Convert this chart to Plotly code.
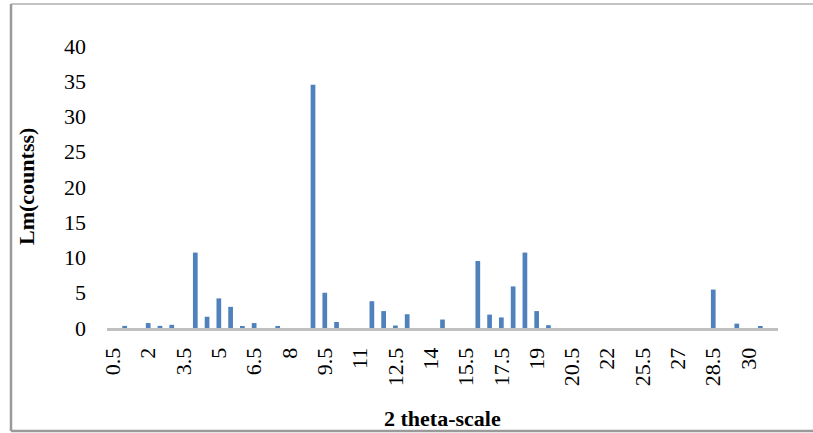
import plotly.graph_objects as go

categories = ["0.5", "1", "1.5", "2", "2.5", "3", "3.5", "4", "4.5", "5",
              "5.5", "6", "6.5", "7", "7.5", "8", "8.5", "9", "9.5", "10",
              "10.5", "11", "11.5", "12", "12.5", "13", "13.5", "14", "14.5", "15",
              "15.5", "16", "17", "17.5", "18", "18.5", "19", "19.5", "20", "20.5",
              "21", "21.5", "22", "23", "24.5", "25.5", "26", "26.5", "27", "27.5",
              "28", "28.5", "29", "29.5", "30", "30.5", "31"]
counts = [0, 0.3, 0, 0.7, 0.3, 0.45, 0, 10.7, 1.6, 4.2,
          3.0, 0.25, 0.7, 0, 0.25, 0, 0, 34.5, 5.0, 0.85,
          0, 0, 3.8, 2.4, 0.35, 1.95, 0, 0, 1.2, 0,
          0, 9.5, 1.9, 1.5, 5.9, 10.7, 2.4, 0.4, 0, 0,
          0, 0, 0, 0, 0, 0, 0, 0, 0, 0,
          0, 5.45, 0, 0.62, 0, 0.25, 0]
tick_labels = categories[::3]
y_ticks = [0, 5, 10, 15, 20, 25, 30, 35, 40]

SERIF = "Liberation Serif, Times New Roman, serif"

fig = go.Figure(go.Bar(x=categories, y=counts, marker_color="#4F81BD",
                       marker_line_width=0))

ML, MR, MT, MB = 107, 35, 46, 105
W, H = 813, 433
pw, ph = W - ML - MR, H - MT - MB

def px_x(p):
    return (p - ML) / pw

def px_y(p):
    return (H - MB - p) / ph

fig.update_layout(
    width=W, height=H,
    margin=dict(l=ML, r=MR, t=MT, b=MB),
    plot_bgcolor="white", paper_bgcolor="white",
    bargap=0.6, showlegend=False,
    font=dict(family=SERIF, size=22, color="black"),
    xaxis=dict(type="category", categoryorder="array", categoryarray=categories,
               tickmode="array", tickvals=tick_labels, ticktext=tick_labels,
               tickangle=-90, showgrid=False, showline=True,
               linecolor="#c0c0c0", linewidth=3, ticks="",
               ticklabelstandoff=8, automargin=False,
               tickfont=dict(family=SERIF, size=22, color="black")),
    yaxis=dict(range=[0, 40], tickvals=y_ticks, showgrid=False, showline=False,
               zeroline=False, ticks="", ticklabelstandoff=20, automargin=False,
               tickfont=dict(family=SERIF, size=22, color="black")),
    annotations=[
        dict(text="<b>Lm(countss)</b>", x=px_x(26), y=0.5, xref="paper", yref="paper",
             textangle=-90, showarrow=False, xanchor="center", yanchor="middle",
             font=dict(family=SERIF, size=22, color="black")),
        dict(text="<b>2 theta-scale</b>", x=0.5, y=px_y(418), xref="paper", yref="paper",
             showarrow=False, xanchor="center", yanchor="middle",
             font=dict(family=SERIF, size=22, color="black")),
    ],
    shapes=[
        dict(type="line", xref="paper", yref="paper", x0=px_x(11), x1=px_x(813),
             y0=px_y(4), y1=px_y(4), line=dict(color="#c4c4c4", width=2)),
        dict(type="line", xref="paper", yref="paper", x0=px_x(11), x1=px_x(11),
             y0=px_y(4), y1=px_y(431), line=dict(color="#9a9a9a", width=2.5)),
        dict(type="line", xref="paper", yref="paper", x0=px_x(11), x1=px_x(813),
             y0=px_y(431), y1=px_y(431), line=dict(color="#9a9a9a", width=2.5)),
    ],
)

fig.write_html("out.html", config={"displayModeBar": False},
               post_script="document.body.style.margin='0';")
